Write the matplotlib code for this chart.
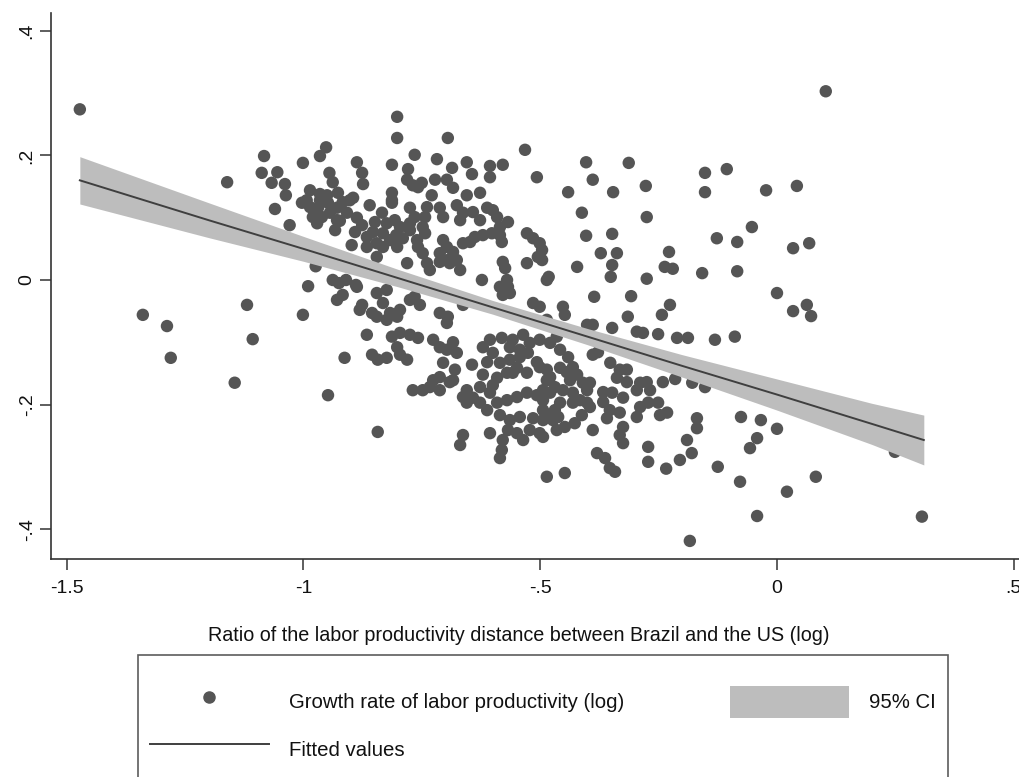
import numpy as np
import matplotlib
matplotlib.use('Agg')
import matplotlib.pyplot as plt
from matplotlib.lines import Line2D
from matplotlib.patches import Patch

plt.rcParams['font.family'] = ['Liberation Sans', 'DejaVu Sans']

# (log productivity gap ratio, log productivity growth)
obs = [
    (-1.472, 0.274), (-1.161, 0.157), (-1.083, 0.199), (-1.088, 0.172), (-1.055, 0.173),
    (-1.067, 0.156), (-1.039, 0.154), (-1.037, 0.136), (-1.001, 0.188), (-1.060, 0.114),
    (-1.029, 0.088), (-1.339, -0.056), (-1.288, -0.074), (-1.280, -0.125), (-1.119, -0.040),
    (-1.107, -0.095), (-1.145, -0.165),
    (-0.965, 0.199), (-0.952, 0.213), (-0.945, 0.172), (-0.938, 0.157), (-0.887, 0.189),
    (-0.876, 0.172), (-0.874, 0.154), (-0.813, 0.185), (-0.802, 0.262), (-0.802, 0.228),
    (-0.765, 0.201), (-0.779, 0.178), (-0.781, 0.161), (-0.769, 0.152), (-0.750, 0.156),
    (-0.758, 0.149), (-0.813, 0.140), (-0.813, 0.128),
    (-0.986, 0.144), (-0.965, 0.138), (-1.003, 0.124), (-0.986, 0.117), (-0.969, 0.116),
    (-0.948, 0.124), (-0.980, 0.101), (-0.961, 0.101), (-0.944, 0.108), (-0.971, 0.091),
    (-0.933, 0.080), (-0.929, 0.096), (-0.993, 0.128), (-0.965, 0.128), (-0.950, 0.136),
    (-0.927, 0.140), (-0.917, 0.125), (-0.902, 0.128), (-0.929, 0.116), (-0.908, 0.108),
    (-0.923, 0.095), (-0.895, 0.132), (-0.974, 0.022), (-0.990, -0.010), (-0.938, 0.000),
    (-0.860, 0.120), (-0.887, 0.100), (-0.876, 0.088), (-0.891, 0.077), (-0.866, 0.069),
    (-0.853, 0.077), (-0.845, 0.059), (-0.866, 0.053), (-0.834, 0.108), (-0.849, 0.093),
    (-0.824, 0.091), (-0.832, 0.075), (-0.807, 0.096), (-0.796, 0.085), (-0.804, 0.072),
    (-0.817, 0.064), (-0.832, 0.053), (-0.802, 0.053), (-0.775, 0.116), (-0.765, 0.101),
    (-0.775, 0.091), (-0.775, 0.080), (-0.790, 0.067), (-0.760, 0.064), (-0.813, 0.124),
    (-0.898, 0.056), (-0.845, 0.037), (-0.781, 0.027), (-0.925, -0.005), (-0.910, 0.000),
    (-0.889, -0.008),
    (-1.001, -0.056), (-0.929, -0.032), (-0.917, -0.024), (-0.887, -0.011), (-0.876, -0.040),
    (-0.881, -0.048), (-0.845, -0.021), (-0.824, -0.016), (-0.832, -0.037), (-0.845, -0.059),
    (-0.817, -0.053), (-0.802, -0.059), (-0.796, -0.048), (-0.824, -0.064), (-0.775, -0.032),
    (-0.754, -0.040), (-0.765, -0.027), (-0.855, -0.053), (-0.866, -0.088), (-0.813, -0.091),
    (-0.796, -0.085), (-0.775, -0.088), (-0.758, -0.093), (-0.802, -0.108), (-0.796, -0.120),
    (-0.781, -0.128), (-0.855, -0.120), (-0.843, -0.128), (-0.824, -0.125), (-0.913, -0.125),
    (-0.948, -0.185), (-0.843, -0.244), (-0.769, -0.177), (-0.748, -0.177), (-0.733, -0.172),
    (-0.695, 0.228), (-0.718, 0.194), (-0.686, 0.180), (-0.655, 0.189), (-0.644, 0.170),
    (-0.606, 0.183), (-0.606, 0.165), (-0.579, 0.185), (-0.532, 0.209), (-0.507, 0.165),
    (-0.722, 0.161), (-0.697, 0.161), (-0.684, 0.148), (-0.729, 0.136), (-0.655, 0.136),
    (-0.627, 0.140), (-0.739, 0.117), (-0.743, 0.101), (-0.748, 0.085), (-0.743, 0.075),
    (-0.712, 0.116), (-0.705, 0.101), (-0.676, 0.120), (-0.663, 0.108), (-0.669, 0.096),
    (-0.642, 0.109), (-0.627, 0.096), (-0.612, 0.116), (-0.600, 0.112), (-0.591, 0.101),
    (-0.568, 0.093), (-0.585, 0.085), (-0.758, 0.053), (-0.748, 0.043), (-0.705, 0.064),
    (-0.697, 0.053), (-0.712, 0.043), (-0.684, 0.045), (-0.695, 0.032), (-0.676, 0.032),
    (-0.663, 0.059), (-0.648, 0.061), (-0.638, 0.069), (-0.621, 0.072), (-0.602, 0.075),
    (-0.585, 0.072), (-0.581, 0.061), (-0.528, 0.075), (-0.515, 0.067), (-0.501, 0.059),
    (-0.496, 0.048), (-0.505, 0.037), (-0.528, 0.027), (-0.579, 0.029), (-0.574, 0.019),
    (-0.570, 0.000), (-0.585, -0.011), (-0.568, -0.011), (-0.623, 0.000), (-0.486, 0.000),
    (-0.739, 0.027), (-0.733, 0.016), (-0.712, 0.029), (-0.691, 0.027), (-0.669, 0.016),
    (-0.496, 0.032),
    (-0.712, -0.053), (-0.695, -0.059), (-0.663, -0.040), (-0.564, -0.021), (-0.579, -0.024),
    (-0.515, -0.037), (-0.501, -0.043), (-0.486, -0.064), (-0.697, -0.069), (-0.684, -0.100),
    (-0.697, -0.112), (-0.676, -0.117), (-0.705, -0.133), (-0.680, -0.144), (-0.691, -0.164),
    (-0.712, -0.177), (-0.726, -0.096), (-0.712, -0.108), (-0.712, -0.156), (-0.684, -0.161),
    (-0.726, -0.161), (-0.644, -0.136), (-0.621, -0.108), (-0.606, -0.096), (-0.581, -0.093),
    (-0.558, -0.096), (-0.536, -0.088), (-0.522, -0.101), (-0.543, -0.112), (-0.564, -0.108),
    (-0.600, -0.117), (-0.612, -0.132), (-0.585, -0.133), (-0.564, -0.128), (-0.543, -0.124),
    (-0.526, -0.117), (-0.507, -0.132), (-0.501, -0.140), (-0.486, -0.144), (-0.549, -0.141),
    (-0.570, -0.149), (-0.591, -0.157), (-0.600, -0.169), (-0.621, -0.152), (-0.501, -0.096),
    (-0.479, -0.101), (-0.465, -0.091), (-0.655, -0.177), (-0.642, -0.189), (-0.627, -0.197),
    (-0.655, -0.197), (-0.612, -0.209), (-0.606, -0.181), (-0.591, -0.197), (-0.570, -0.193),
    (-0.549, -0.188), (-0.528, -0.181), (-0.507, -0.185), (-0.494, -0.193), (-0.479, -0.181),
    (-0.469, -0.172), (-0.486, -0.161), (-0.585, -0.217), (-0.564, -0.225), (-0.543, -0.220),
    (-0.515, -0.222), (-0.494, -0.225), (-0.479, -0.220), (-0.568, -0.241), (-0.549, -0.246),
    (-0.522, -0.241), (-0.501, -0.246), (-0.536, -0.257), (-0.663, -0.249), (-0.669, -0.265),
    (-0.606, -0.246), (-0.579, -0.257), (-0.581, -0.273), (-0.585, -0.286), (-0.494, -0.252),
    (-0.486, -0.316), (-0.448, -0.310), (-0.558, -0.149), (-0.528, -0.149), (-0.627, -0.172),
    (-0.663, -0.188),
    (-0.403, 0.189), (-0.313, 0.188), (-0.389, 0.161), (-0.441, 0.141), (-0.346, 0.141),
    (-0.277, 0.151), (-0.412, 0.108), (-0.275, 0.101), (-0.403, 0.071), (-0.348, 0.074),
    (-0.372, 0.043), (-0.338, 0.043), (-0.348, 0.024), (-0.351, 0.005), (-0.422, 0.021),
    (-0.482, 0.005), (-0.275, 0.002), (-0.386, -0.027), (-0.308, -0.026), (-0.452, -0.043),
    (-0.448, -0.056), (-0.401, -0.072), (-0.389, -0.072), (-0.348, -0.077), (-0.296, -0.083),
    (-0.283, -0.085), (-0.315, -0.059), (-0.389, -0.120), (-0.378, -0.116),
    (-0.458, -0.112), (-0.441, -0.124), (-0.431, -0.140), (-0.444, -0.148), (-0.422, -0.152),
    (-0.410, -0.165), (-0.458, -0.141), (-0.479, -0.156), (-0.494, -0.177), (-0.452, -0.177),
    (-0.431, -0.181), (-0.401, -0.177), (-0.395, -0.165), (-0.494, -0.209), (-0.469, -0.209),
    (-0.462, -0.220), (-0.448, -0.236), (-0.427, -0.230), (-0.412, -0.217), (-0.401, -0.197),
    (-0.431, -0.197), (-0.458, -0.197), (-0.389, -0.241), (-0.352, -0.133), (-0.332, -0.144),
    (-0.317, -0.144), (-0.338, -0.157), (-0.317, -0.164), (-0.289, -0.165), (-0.296, -0.177),
    (-0.275, -0.164), (-0.268, -0.177), (-0.367, -0.180), (-0.348, -0.181), (-0.325, -0.189),
    (-0.367, -0.196), (-0.353, -0.209), (-0.359, -0.222), (-0.332, -0.213), (-0.325, -0.236),
    (-0.332, -0.249), (-0.325, -0.262), (-0.289, -0.204), (-0.272, -0.197), (-0.251, -0.197),
    (-0.232, -0.213), (-0.247, -0.217), (-0.296, -0.220), (-0.241, -0.164), (-0.215, -0.159),
    (-0.179, -0.165), (-0.152, -0.172), (-0.169, -0.222), (-0.169, -0.238), (-0.190, -0.257),
    (-0.180, -0.278), (-0.205, -0.289), (-0.272, -0.268), (-0.272, -0.292), (-0.234, -0.303),
    (-0.380, -0.278), (-0.363, -0.286), (-0.353, -0.302), (-0.342, -0.308), (-0.184, -0.419),
    (-0.437, -0.161), (-0.416, -0.193), (-0.473, -0.225), (-0.465, -0.241), (-0.395, -0.204),
    (-0.243, -0.056), (-0.226, -0.040), (-0.251, -0.087), (-0.211, -0.093), (-0.188, -0.093),
    (-0.131, -0.096), (-0.089, -0.091), (-0.228, 0.045), (-0.237, 0.021), (-0.220, 0.018),
    (-0.158, 0.011), (-0.084, 0.014), (-0.152, 0.172), (-0.152, 0.141), (-0.106, 0.178),
    (-0.023, 0.144), (-0.053, 0.085), (-0.127, 0.067), (-0.084, 0.061), (0.042, 0.151),
    (0.034, 0.051), (0.068, 0.059), (0.000, -0.021), (0.034, -0.050), (0.063, -0.040),
    (0.072, -0.058), (0.103, 0.303), (-0.034, -0.225), (0.000, -0.239), (-0.042, -0.254),
    (-0.057, -0.270), (-0.076, -0.220), (0.082, -0.316), (0.021, -0.340), (-0.042, -0.379),
    (-0.078, -0.324), (-0.125, -0.300), (0.306, -0.380), (0.249, -0.276),
]
ratio = [p[0] for p in obs]
growth = [p[1] for p in obs]

# fitted line and 95% CI
fit_x = [-1.472, -1.2, -1.0, -0.8, -0.6, -0.4, -0.2, 0.0, 0.2, 0.310]
fit_y = [0.160, 0.096, 0.050, 0.003, -0.044, -0.091, -0.138, -0.184, -0.231, -0.257]
ci_hi = [0.198, 0.124, 0.070, 0.017, -0.033, -0.078, -0.120, -0.159, -0.198, -0.217]
ci_lo = [0.122, 0.068, 0.030, -0.011, -0.055, -0.104, -0.156, -0.209, -0.264, -0.297]

xticks = [-1.5, -1, -0.5, 0, 0.5]
xtick_labels = ['-1.5', '-1', '-.5', '0', '.5']
yticks = [-0.4, -0.2, 0, 0.2, 0.4]
ytick_labels = ['-.4', '-.2', '0', '.2', '.4']

dot_col = '#555555'
band_col = '#bdbdbd'
line_col = '#3f3f3f'
axis_col = '#333333'

fig = plt.figure(figsize=(10.19, 7.77), dpi=100)
ax = fig.add_axes([0.050, 0.2806, 0.95, 0.7026])

ax.scatter(ratio, growth, s=80, color=dot_col, edgecolors='none', zorder=2)
ax.fill_between(fit_x, ci_lo, ci_hi, color=band_col, lw=0, zorder=3)
ax.plot(fit_x, fit_y, color=line_col, lw=1.4, zorder=4)

ax.set_xlim(-1.533, 0.511)
ax.set_ylim(-0.448, 0.4286)
ax.set_xticks(xticks)
ax.set_xticklabels(xtick_labels)
ax.set_yticks(yticks)
ax.set_yticklabels(ytick_labels, rotation=90, va='center')

for s in ['top', 'right']:
    ax.spines[s].set_visible(False)
for s in ['left', 'bottom']:
    ax.spines[s].set_linewidth(1.2)
    ax.spines[s].set_color(axis_col)
ax.tick_params(direction='out', length=8, width=1.1, color=axis_col,
               labelsize=14, labelcolor='#111111')
ax.tick_params(axis='x', pad=7)
ax.tick_params(axis='y', pad=3)

ax.set_xlabel('Ratio of the labor productivity distance between Brazil and the US (log)',
              fontsize=14.2, color='#111111')
ax.xaxis.set_label_coords(0.4835, -0.122)

handles = [
    Line2D([], [], marker='o', ls='none', color=dot_col, markersize=8),
    Line2D([], [], color=line_col, lw=1.4),
    Patch(facecolor=band_col, edgecolor='none'),
]
labels = ['Growth rate of labor productivity (log)', 'Fitted values', '95% CI']
leg = fig.legend(handles, labels, ncol=2, loc='upper left',
                 bbox_to_anchor=(138 / 1019, 1 - 655 / 777, 810 / 1019, 0),
                 mode='expand', borderaxespad=0, frameon=True, fancybox=False,
                 edgecolor=axis_col, borderpad=0.6, handlelength=5.8,
                 handleheight=2.1, handletextpad=1.0, labelspacing=0.7,
                 fontsize=14.7, numpoints=1, title=' ', title_fontsize=2)
leg.get_frame().set_linewidth(1.2)
for t in leg.get_texts():
    t.set_color('#111111')

fig.savefig('out.png', dpi=100)
